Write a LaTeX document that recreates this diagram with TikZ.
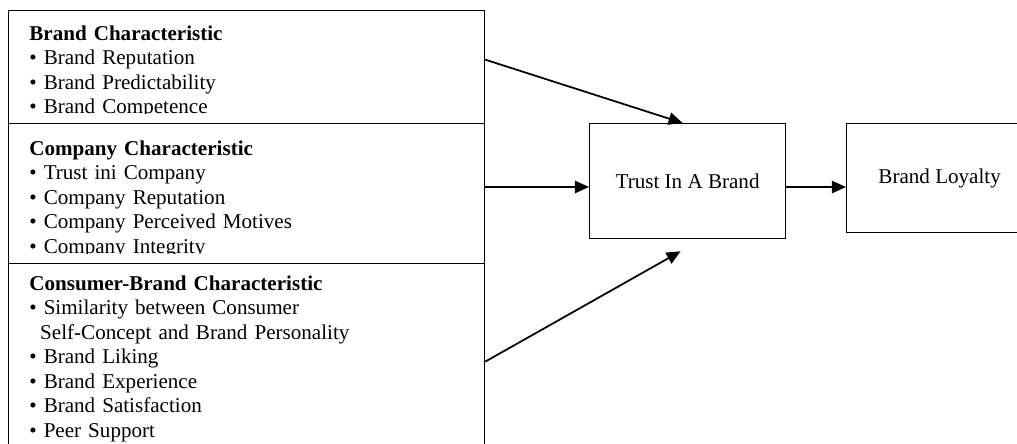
\documentclass[tikz,border=0pt]{standalone}
\usepackage{fontspec}
\setmainfont{Liberation Serif}
\usepackage{tikz}
\usetikzlibrary{arrows.meta}

\newcommand{\factoritem}{\textbullet\ }

\tikzset{
  factor/.style={draw, line width=0.75pt, fill=white, inner sep=0pt, anchor=north west, minimum width=9.52cm},
  factortext/.style={anchor=base west, inner sep=0pt, align=left, text width=9cm, font=\fontsize{12}{14}\selectfont},
  stage/.style={draw, line width=0.75pt, fill=white, inner sep=0pt, anchor=north west, font=\fontsize{12}{14}\selectfont},
  link/.style={->, line width=1pt},
}

\begin{document}
\begin{tikzpicture}[x=0.02cm, y=-0.02cm, >={Triangle[length=8pt,width=7pt]}]
    \useasboundingbox (0,0) rectangle (1017,443);
    \clip (0,0) rectangle (1017,443);

    % Left boxes
    \node[factor, minimum height=2.26cm] (brand) at (8,10) {};
    \begin{scope}
        \clip (brand.north west) rectangle ([yshift=0.22cm]brand.south east);
        \node[factortext] (brandtxt) at (29,40) {\textbf{Brand Characteristic}\\
            \factoritem Brand Reputation\\
            \factoritem Brand Predictability\\
            \factoritem Brand Competence};
    \end{scope}

    \node[factor, minimum height=2.8cm] (company) at (8,123) {};
    \begin{scope}
        \clip (company.north west) rectangle ([yshift=0.22cm]company.south east);
        \node[factortext] (companytxt) at (29,155) {\textbf{Company Characteristic}\\
            \factoritem Trust ini Company\\
            \factoritem Company Reputation\\
            \factoritem Company Perceived Motives\\
            \factoritem Company Integrity};
    \end{scope}

    \node[factor, minimum height=3.92cm] (consumer) at (8,263) {};
    \node[factortext] (consumertxt) at (29,290) {\textbf{Consumer-Brand Characteristic}\\
        \factoritem Similarity between Consumer\\
        \hspace{6.2pt}Self-Concept and Brand Personality\\
        \factoritem Brand Liking\\
        \factoritem Brand Experience\\
        \factoritem Brand Satisfaction\\
        \factoritem Peer Support};

    % Trust and loyalty
    \node[stage, minimum width=3.92cm, minimum height=2.3cm] (trust) at (589,123) {Trust In A Brand};
    \node[stage, minimum width=3.72cm, minimum height=2.18cm] (loyalty) at (846,123) {Brand Loyalty};

    % Arrows
    \coordinate (lvl) at (0,187);
    \draw[link] ([yshift=0.15cm]brand.east) -- ([xshift=-0.1cm]trust.north);
    \draw[link] (company.east |- lvl) -- (trust.west |- lvl);
    \draw[link] (consumer.east) -- ([xshift=-0.14cm,yshift=-0.24cm]trust.south);
    \draw[link] (trust.east |- lvl) -- (loyalty.west |- lvl);

\end{tikzpicture}
\end{document}
